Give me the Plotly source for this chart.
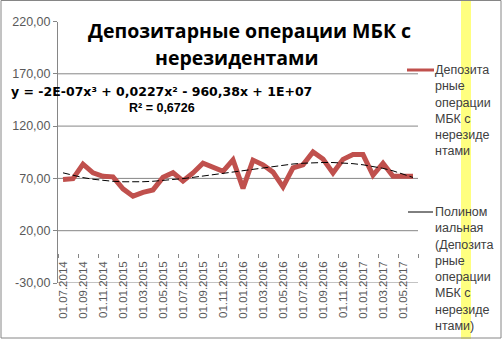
import numpy as np
import plotly.graph_objects as go

# ---- data ----
dates = [
    "01.07.2014", "01.08.2014", "01.09.2014", "01.10.2014", "01.11.2014", "01.12.2014",
    "01.01.2015", "01.02.2015", "01.03.2015", "01.04.2015", "01.05.2015", "01.06.2015",
    "01.07.2015", "01.08.2015", "01.09.2015", "01.10.2015", "01.11.2015", "01.12.2015",
    "01.01.2016", "01.02.2016", "01.03.2016", "01.04.2016", "01.05.2016", "01.06.2016",
    "01.07.2016", "01.08.2016", "01.09.2016", "01.10.2016", "01.11.2016", "01.12.2016",
    "01.01.2017", "01.02.2017", "01.03.2017", "01.04.2017", "01.05.2017", "01.06.2017",
]
values = [
    69.0, 69.7, 83.6, 75.3, 72.0, 71.5,
    60.0, 53.0, 56.7, 59.0, 71.0, 75.5,
    67.5, 75.2, 84.5, 81.0, 76.8, 87.8,
    60.5, 87.5, 83.0, 76.0, 61.8, 80.0,
    83.0, 95.3, 88.5, 75.2, 88.2, 92.8,
    92.8, 73.0, 84.5, 72.0, 72.0, 72.0,
]
y_ticks = [-30, 20, 70, 120, 170, 220]
y_tick_text = ["-30,00", "20,00", "70,00", "120,00", "170,00", "220,00"]

title_lines = ["Депозитарные операции МБК с", "нерезидентами"]
equation = "y = -2E-07x³ + 0,0227x² - 960,38x + 1E+07"
r2_text = "R² = 0,6726"
legend_series = "Депозита<br>рные<br>операции<br>МБК с<br>нерезиде<br>нтами"
legend_trend = "Полином<br>иальная<br>(Депозита<br>рные<br>операции<br>МБК с<br>нерезиде<br>нтами)"

# polynomial (3rd order) trendline fitted to the series, as Excel does
idx = np.arange(len(values))
coef = np.polyfit(idx, values, 3)
trend = np.polyval(coef, idx)

W, H = 502, 339
GRID = "#868686"
TXT = "#595959"

fig = go.Figure()
fig.add_trace(go.Scatter(x=dates, y=values, mode="lines",
                         line=dict(color="#C0504D", width=5), showlegend=False))
fig.add_trace(go.Scatter(x=dates, y=trend, mode="lines",
                         line=dict(color="black", width=1, dash="7px,3px"), showlegend=False))

for v in y_ticks[:-1]:
    fig.add_hline(y=v, line=dict(color=GRID, width=1), layer="below")

def px(x):
    return x / W

def py(y):
    return 1 - y / H

fig.update_layout(
    width=W, height=H,
    margin=dict(l=0, r=0, t=0, b=0),
    paper_bgcolor="white", plot_bgcolor="rgba(0,0,0,0)",
    xaxis=dict(
        type="category", domain=[px(58), px(418)], anchor="free", position=py(253),
        range=[-0.5, len(dates) - 0.5], tickmode="linear", tick0=0, dtick=2,
        tickson="boundaries", ticks="outside", ticklen=4, tickcolor=GRID,
        tickangle=-90, tickfont=dict(family="Liberation Sans", size=11.5, color=TXT),
        ticklabelstandoff=5,
        showline=False, showgrid=False, zeroline=False, automargin=False,
    ),
    yaxis=dict(
        domain=[py(283), py(21.5)], range=[-30, 220],
        tickmode="array", tickvals=y_ticks, ticktext=y_tick_text,
        ticks="outside", ticklen=4, tickcolor=GRID,
        tickfont=dict(family="Liberation Sans", size=12.5, color=TXT),
        showline=True, linecolor=GRID, linewidth=1,
        showgrid=False, zeroline=False, automargin=False,
    ),
    showlegend=False,
)

anns = [
    dict(text="<b>%s</b>" % title_lines[0], x=px(249.5), y=py(30), font=dict(family="Open Sans", size=19.5, color="black")),
    dict(text="<b>%s</b>" % title_lines[1], x=px(236.5), y=py(57), font=dict(family="Open Sans", size=19.5, color="black")),
    dict(text="<b>%s</b>" % equation, x=px(161.5), y=py(91), font=dict(family="DejaVu Sans", size=12.5, color="black")),
    dict(text="<b>%s</b>" % r2_text, x=px(162), y=py(108), font=dict(family="Liberation Sans", size=12.5, color="black")),
]
for a in anns:
    a.update(xref="paper", yref="paper", xanchor="center", yanchor="middle", showarrow=False)
    fig.add_annotation(**a)

for txt, ytop in [(legend_series, 61), (legend_trend, 203)]:
    fig.add_annotation(text=txt, x=px(433), y=py(ytop), xref="paper", yref="paper",
                       xanchor="left", yanchor="top", align="left", showarrow=False,
                       font=dict(family="Liberation Sans", size=12.5, color="#404040"))

# legend samples, background band and frame
fig.add_shape(type="rect", xref="paper", yref="paper", x0=px(461), x1=px(471), y0=0, y1=1,
              fillcolor="#FFFF80", line=dict(width=0), layer="below")
fig.add_shape(type="line", xref="paper", yref="paper", x0=px(407), x1=px(434), y0=py(70), y1=py(70),
              line=dict(color="#C0504D", width=3))
fig.add_shape(type="line", xref="paper", yref="paper", x0=px(408), x1=px(433), y0=py(212), y1=py(212),
              line=dict(color="black", width=1))
fig.add_shape(type="rect", xref="paper", yref="paper", x0=px(1), x1=px(501), y0=py(338), y1=py(0.5),
              line=dict(color=GRID, width=1))

fig.write_html("out.html")
